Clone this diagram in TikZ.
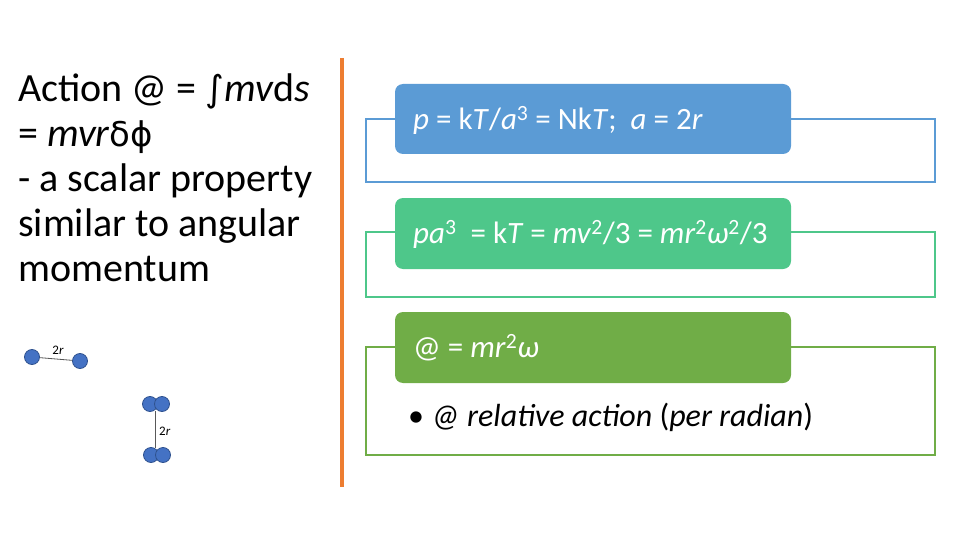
\documentclass[tikz,border=0pt]{standalone}
\usepackage{fontspec}
\setmainfont{Carlito}
\newfontfamily\djv{DejaVu Sans}
\begin{document}
\begin{tikzpicture}[x=1pt,y=-1pt,
 outl/.style={draw=#1,line width=1.3pt},
 fillb/.style={fill=#1,draw=none,rounded corners=8pt},
 atom/.style={circle,fill=atomc,draw=atomd,line width=0.8pt,minimum size=15pt,inner sep=0pt},
 big/.style={font=\fontsize{40pt}{45pt}\selectfont,anchor=north west,align=left,inner sep=0pt},
 boxt/.style={font=\fontsize{31pt}{34pt}\selectfont,text=white,anchor=west,inner sep=0pt}]
\definecolor{bl}{HTML}{5B9BD5}
\definecolor{gr1}{HTML}{4EC78A}
\definecolor{gr2}{HTML}{70AD47}
\definecolor{org}{HTML}{ED7D31}
\definecolor{atomc}{HTML}{4472C4}
\definecolor{atomd}{HTML}{2F528F}
\useasboundingbox (0,0) rectangle (960,540);
% left text
\node[big] (txt) at (18,74) {Action @ = {\djv\fontsize{36pt}{40pt}\selectfont ∫}\textit{mv}d\textit{s}\\= \textit{mvr}{\djv\fontsize{34pt}{40pt}\selectfont δϕ}\\- a scalar property\\similar to angular\\momentum};
% molecules
\node[atom] (a1) at (32,357) {};
\node[atom] (a2) at (80,361) {};
\draw[gray!70!black,line width=0.8pt] (a1) -- (a2);
\node[font=\fontsize{13pt}{13pt}\selectfont,inner sep=0pt] (l1) at (58,350) {2\textit{r}};
\node[atom] (b1) at (150,404) {};
\node[atom] (b2) at (162,404) {};
\node[atom] (b3) at (151,455) {};
\node[atom] (b4) at (163,455) {};
\coordinate (v1) at (155,411);
\coordinate (v2) at (155,448);
\draw[gray!70!black,line width=0.8pt] (v1) -- (v2);
\node[font=\fontsize{13pt}{13pt}\selectfont,inner sep=0pt,anchor=west] (l2) at (159,431) {2\textit{r}};
% orange divider
\coordinate (o1) at (342,58);
\coordinate (o2) at (342,487);
\draw[org,line width=4pt] (o1) -- (o2);
% right boxes
\draw[outl=bl] (366,119) rectangle (935,182);
\fill[fillb=bl] (395,84) rectangle (791,154);
\node[boxt] (t1) at (413,120) {\textit{p} = k\textit{T}/\textit{a}\textsuperscript{3} = Nk\textit{T};\ \ \textit{a} = 2\textit{r}};
\draw[outl=gr1] (366,232) rectangle (935,297);
\fill[fillb=gr1] (395,198) rectangle (791,269);
\node[boxt] (t2) at (413,234) {\textit{pa}\textsuperscript{3}\ \ = k\textit{T} = \textit{mv}\textsuperscript{2}/3 = \textit{mr}\textsuperscript{2}\textit{ω}\textsuperscript{2}/3};
\draw[outl=gr2] (366,347) rectangle (935,455);
\fill[fillb=gr2] (395,312) rectangle (791,383);
\node[boxt] (t3) at (413,348) {@ = \textit{mr}\textsuperscript{2}\textit{ω}};
\node[font=\fontsize{32pt}{34pt}\selectfont,anchor=west,inner sep=0pt] (t4) at (408,417) {• \textit{@ relative action} (\textit{per radian})};
\end{tikzpicture}
\end{document}
